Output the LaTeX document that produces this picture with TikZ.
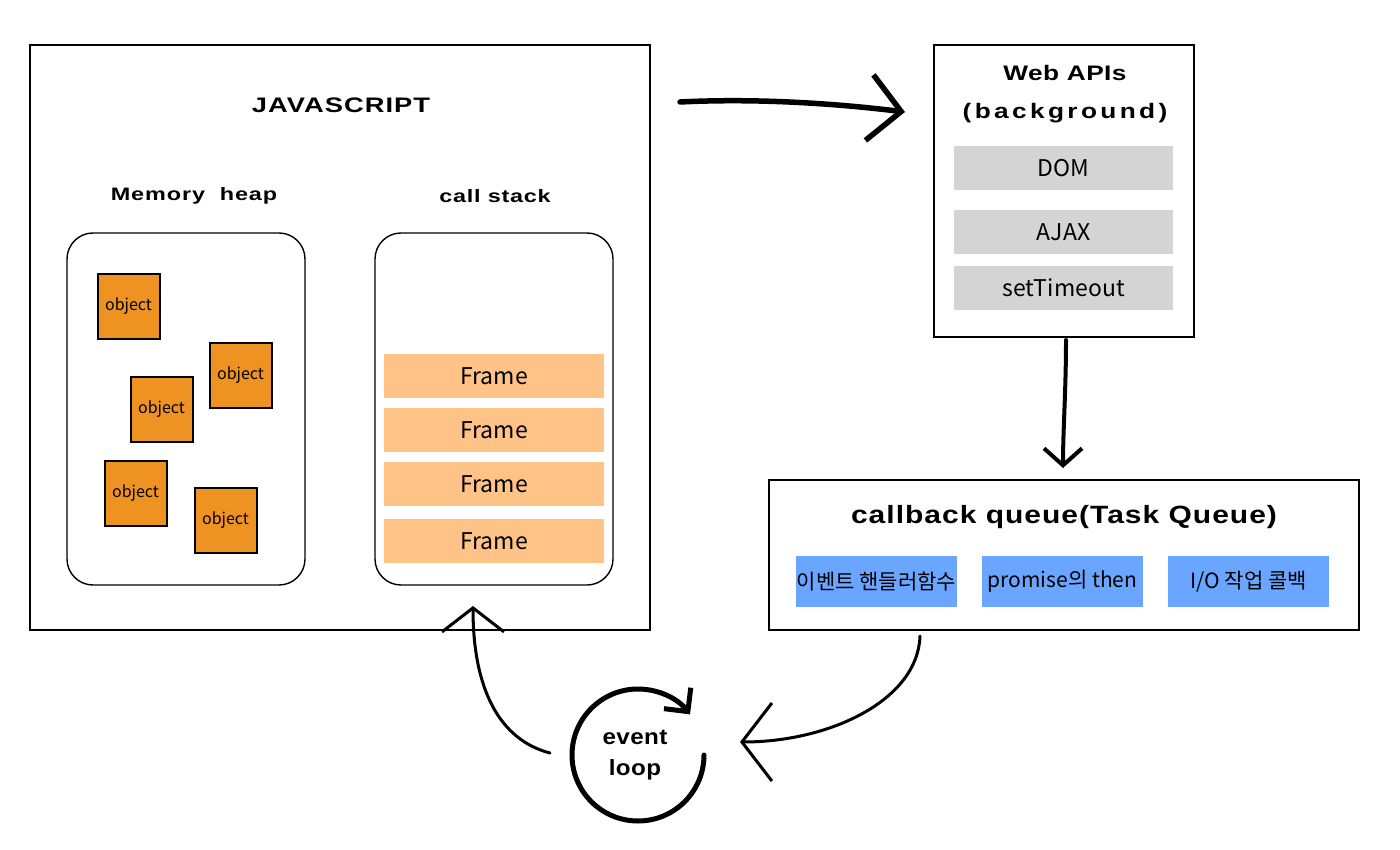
\documentclass[tikz,border=0pt]{standalone}
\usepackage{fontspec}
\setmainfont{Liberation Sans}
\newfontfamily\kr{Noto Sans CJK KR}
\usetikzlibrary{arrows.meta}
\usetikzlibrary{positioning}

\definecolor{objorange}{HTML}{EE9321}
\definecolor{framepeach}{HTML}{FFC387}
\definecolor{apigray}{HTML}{D4D4D4}
\definecolor{taskblue}{HTML}{6AA6FF}

\begin{document}
\begin{tikzpicture}[x=1pt, y=-1pt,
  bigbox/.style={draw=black, line width=1.8pt, inner sep=0pt},
  roundbox/.style={draw=black, line width=1.4pt, rounded corners=26pt, inner sep=0pt},
  title/.style n args={3}{font=\bfseries\fontsize{#1}{38}\selectfont\addfontfeatures{FakeStretch=#2,LetterSpace=#3}, align=center},
  obj/.style={draw=black, line width=2pt, fill=objorange, minimum width=62pt, minimum height=65pt, inner sep=0pt, font=\kr\fontsize{16}{18}\selectfont},
  frame/.style={fill=framepeach, minimum width=220pt, minimum height=44pt, inner sep=0pt, font=\kr\fontsize{23}{26}\selectfont},
  api/.style={fill=apigray, minimum width=219pt, minimum height=44pt, inner sep=0pt, font=\kr\fontsize{23}{26}\selectfont},
  task/.style={fill=taskblue, minimum width=161pt, minimum height=51pt, inner sep=0pt, font=\kr\fontsize{21}{24}\selectfont}]

  \useasboundingbox (0,0) rectangle (1400,850);

  % JavaScript engine
  \node[bigbox, minimum width=620pt, minimum height=585pt] (js) at (340,337.5) {};
  \node[title={21}{1.3}{5}] (jstitle) at (341,105) {JAVASCRIPT};

  % Memory heap and call stack
  \node[title={18}{1.3}{5}] (heaptitle) at (194,196) {Memory~~heap};
  \node[title={18}{1.3}{4}] (stacktitle) at (495,196) {call stack};
  \node[roundbox, minimum width=238pt, minimum height=352pt] (heap) at (186,409) {};
  \node[roundbox, minimum width=238pt, minimum height=352pt] (stack) at (494,409) {};

  % Objects in the heap
  \foreach \i/\x/\y in {1/128.5/306.5, 2/240.5/375, 3/161.5/409, 4/135.5/493, 5/225.5/520} {
    \node[obj] (obj\i) at (\x,\y) {object};
  }

  % Frames on the stack
  \foreach \i/\y in {1/376, 2/430, 3/484, 4/541} {
    \node[frame] (frame\i) at (494,\y) {Frame};
  }

  % Web APIs
  \node[bigbox, minimum width=260pt, minimum height=292pt] (web) at (1064,191) {};
  \node[title={21}{1.25}{2}] (webtitle) at (1065,94) {Web APIs\\\addfontfeature{LetterSpace=16}(background)};
  \node[api] (dom) at (1063.5,168) {DOM};
  \node[api] (ajax) at (1063.5,232) {AJAX};
  \node[api] (timeout) at (1063.5,288) {setTimeout};

  % Callback queue
  \node[bigbox, minimum width=590pt, minimum height=150pt] (queue) at (1064,555) {};
  \node[title={25}{1.2}{4}] (queuetitle) at (1064,517) {callback queue(Task Queue)};
  \node[task] (handler) at (876.5,581.5) {이벤트 핸들러함수};
  \node[task] (promise) at (1062.5,581.5) {promise의 then};
  \node[task] (io) at (1248.5,581.5) {I/O 작업 콜백};

  % Event loop
  \node[font=\bfseries\fontsize{22}{31}\selectfont\addfontfeatures{FakeStretch=1.1,LetterSpace=2}, align=center] (loop) at (635,755) {event\\loop};
  \draw[line width=5pt, line cap=round, -{Straight Barb[length=17pt, width=34pt]}]
    (704,755) arc[start angle=0, end angle=322, radius=66];

  % Connectors
  \coordinate (jsout) at (680,102);
  \coordinate (webin) at (905,112);
  \coordinate (webout) at (1066,340);
  \coordinate (queuein) at (1063,468);
  \coordinate (queueout) at (920,636);
  \coordinate (loopin) at (740,742);
  \coordinate (loopout) at (550,753);
  \coordinate (stackin) at (473,606);

  \draw[line width=5.5pt, line cap=round, -{Straight Barb[length=32pt, width=66pt]}]
    (jsout) .. controls (760,98) and (840,104) .. (webin);
  \draw[line width=4pt, line cap=round, -{Straight Barb[length=17pt, width=38pt]}]
    (webout) .. controls (1066,390) and (1063,430) .. (queuein);
  \draw[line width=3pt, line cap=round, -{Straight Barb[length=30pt, width=78pt]}]
    (queueout) .. controls (918,700) and (830,742) .. (loopin);
  \draw[line width=3pt, line cap=round, -{Straight Barb[length=24pt, width=62pt]}]
    (loopout) .. controls (500,740) and (473,690) .. (stackin);

\end{tikzpicture}
\end{document}
